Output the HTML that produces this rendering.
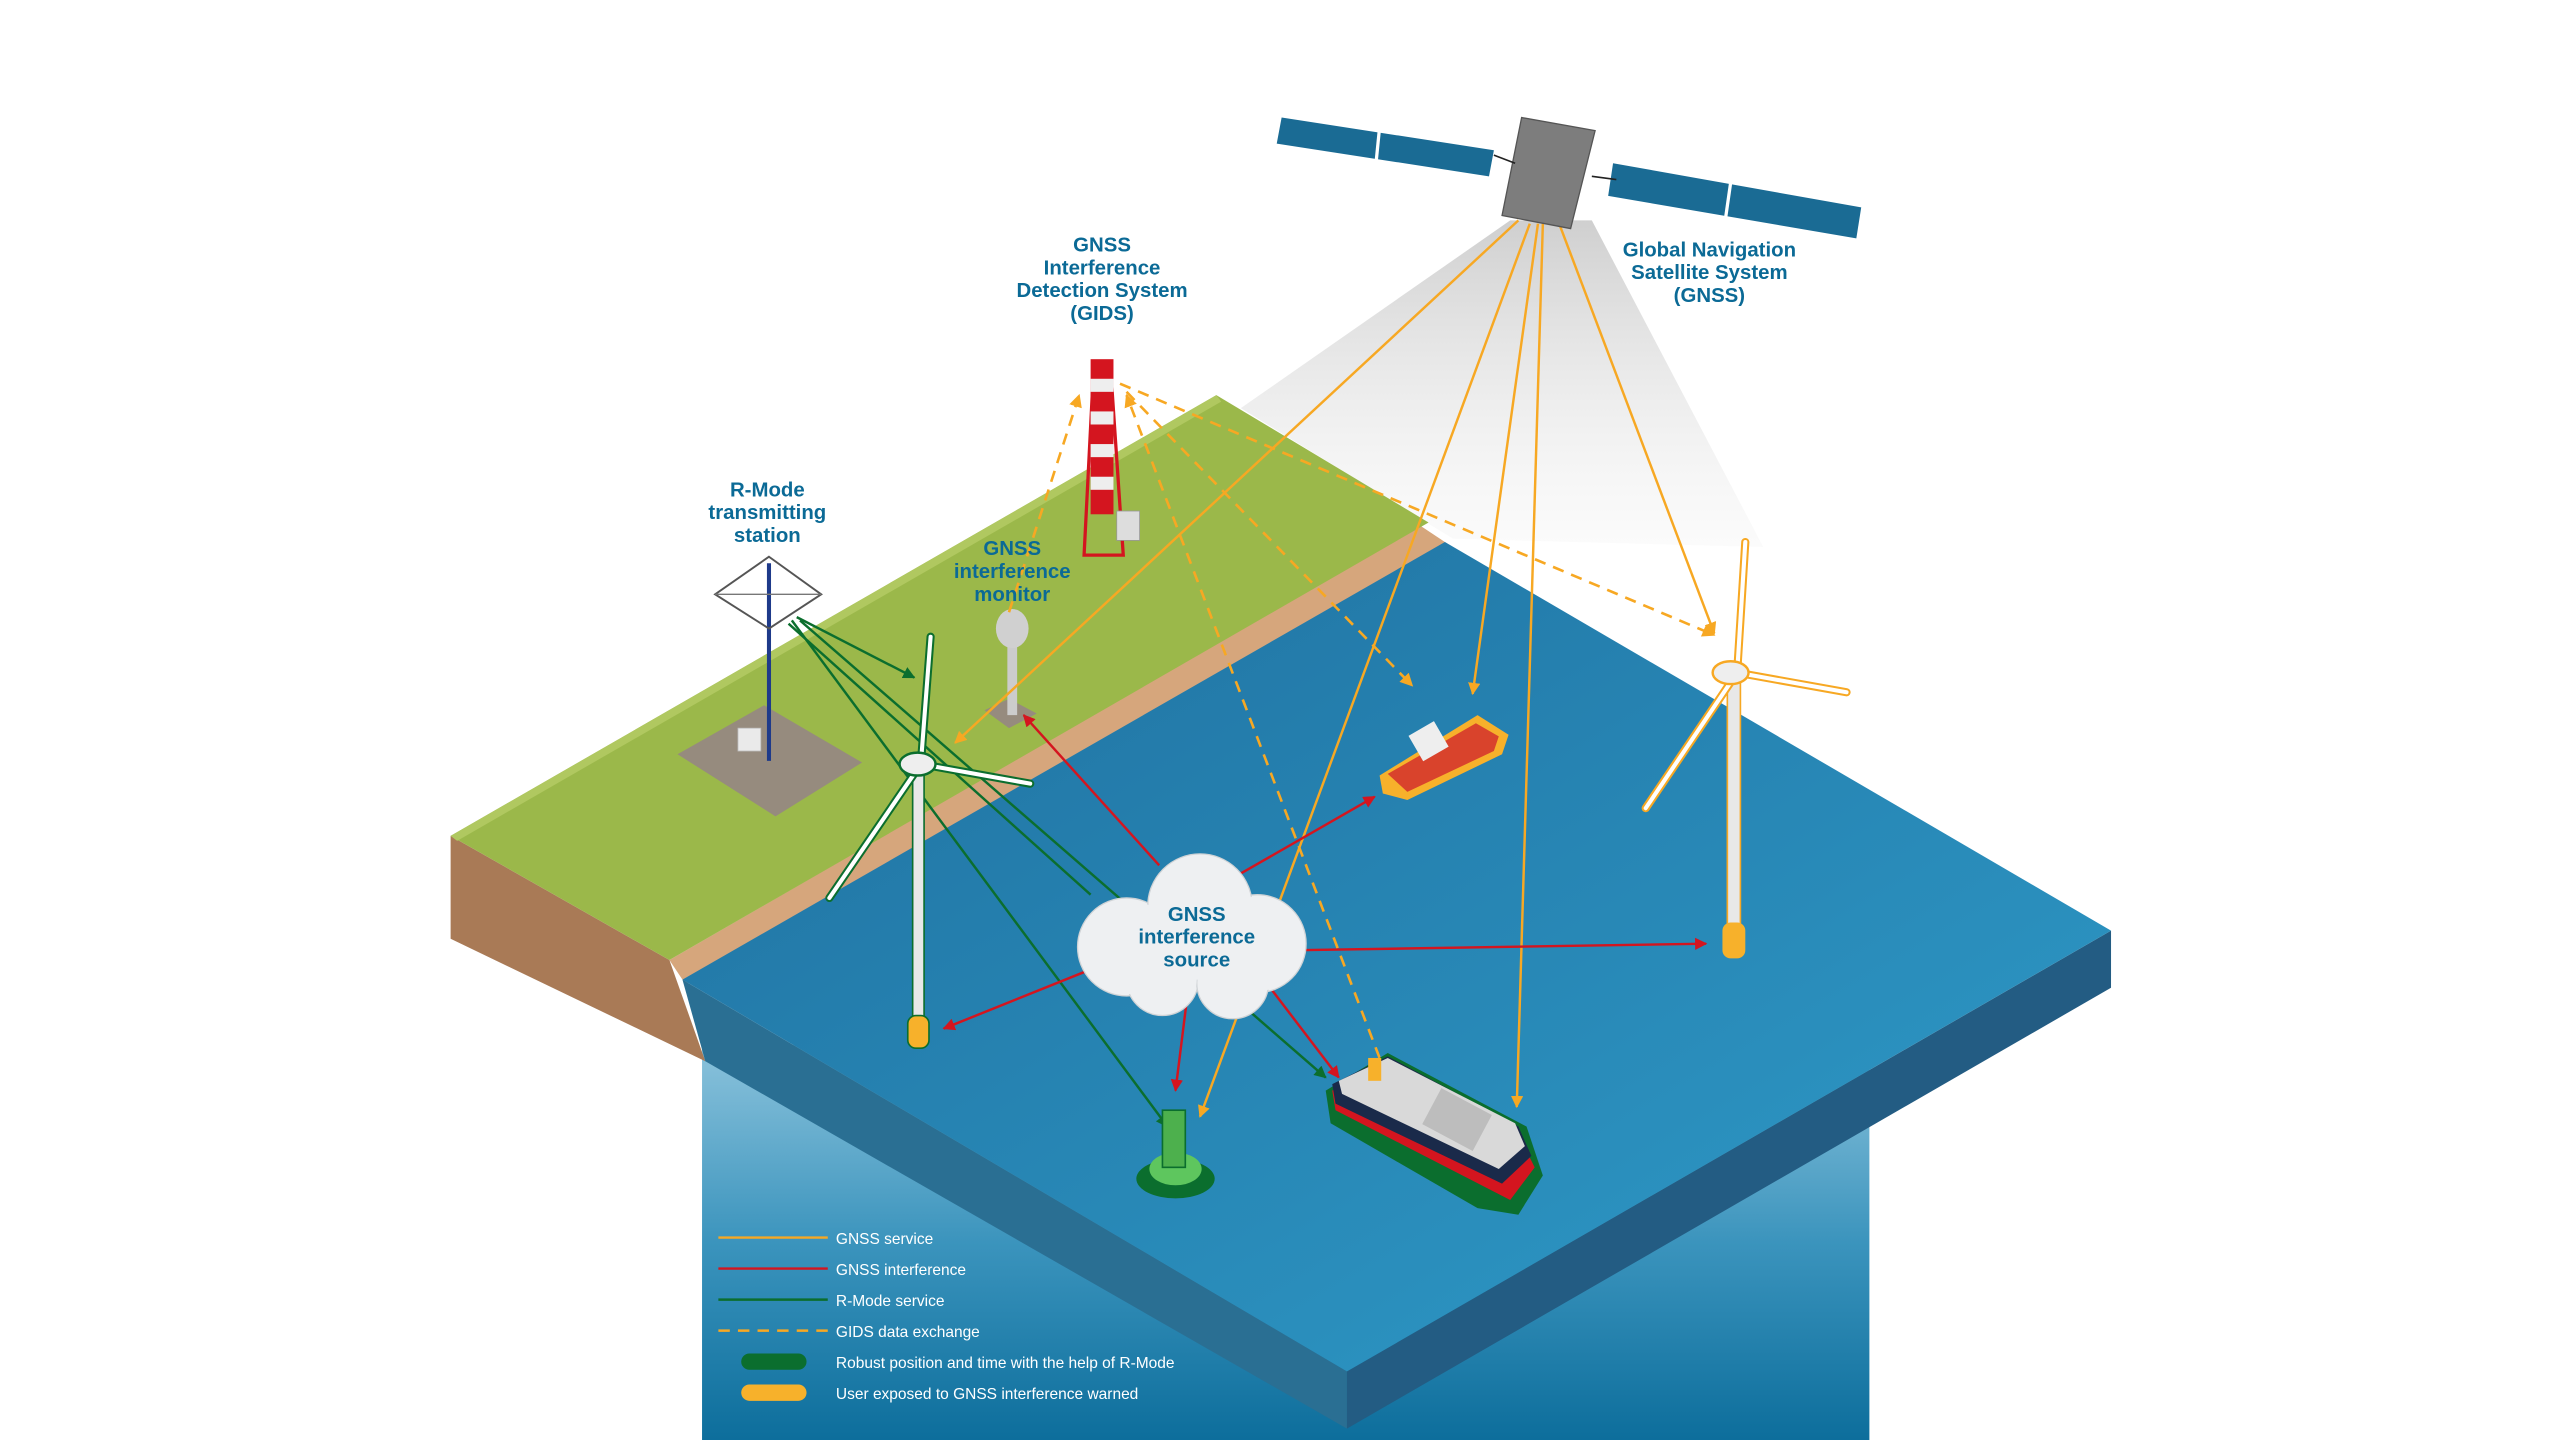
<!DOCTYPE html>
<html><head><meta charset="utf-8">
<style>
html,body{margin:0;padding:0;background:#fff;width:2560px;height:1440px;overflow:hidden}
svg{display:block}
.lbl{font-family:"Liberation Sans",sans-serif;font-weight:bold;fill:#0b6a96;font-size:12.5px;text-anchor:middle}
.lg{font-family:"Liberation Sans",sans-serif;fill:#fff;font-size:9.5px}
</style></head><body>
<svg width="2560" height="1440" viewBox="0 0 1568 882" preserveAspectRatio="none" xmlns="http://www.w3.org/2000/svg">
<defs>
<linearGradient id="col" x1="0" y1="0" x2="0" y2="1">
<stop offset="0" stop-color="#8cc3dc"/><stop offset="0.5" stop-color="#3b94bd"/><stop offset="1" stop-color="#0d6e9c"/></linearGradient>
<linearGradient id="cone" x1="0" y1="0" x2="0" y2="1">
<stop offset="0" stop-color="#cfcfcf"/><stop offset="1" stop-color="#f2f2f2" stop-opacity="0.3"/></linearGradient>
<linearGradient id="sea" x1="0" y1="0" x2="1" y2="1">
<stop offset="0" stop-color="#1f6f9f"/><stop offset="1" stop-color="#2f9cc9"/></linearGradient>
<marker id="ao" viewBox="0 0 10 10" refX="9" refY="5" markerWidth="5" markerHeight="5" orient="auto"><path d="M0,0L10,5L0,10z" fill="#f7a823"/></marker>
<marker id="ar" viewBox="0 0 10 10" refX="9" refY="5" markerWidth="5" markerHeight="5" orient="auto"><path d="M0,0L10,5L0,10z" fill="#d4151f"/></marker>
<marker id="ag" viewBox="0 0 10 10" refX="9" refY="5" markerWidth="5" markerHeight="5" orient="auto"><path d="M0,0L10,5L0,10z" fill="#0b6e2e"/></marker>
</defs>

<!-- light cone -->
<polygon points="925,135 760,250 890,330 1080,335 975,135" fill="url(#cone)"/>

<!-- water column -->
<rect x="430" y="640" width="715" height="242" fill="url(#col)"/>

<!-- brown cliff -->
<polygon points="276,512 410,588 432,650 276,575" fill="#a97a56"/>
<!-- sand -->
<polygon points="410,588 870,322 888,334 420,603" fill="#d6a67c"/>
<!-- green land -->
<polygon points="276,512 745,242 875,320 410,588" fill="#9bb84a"/>
<polygon points="276,512 745,242 748,246 280,515" fill="#b0c860"/>
<!-- sea side faces -->
<polygon points="418,600 432,650 825,875 825,840" fill="#2a6f93"/>
<polygon points="825,840 1293,570 1293,605 825,875" fill="#235c83"/>
<!-- sea top -->
<polygon points="418,600 885,332 1293,570 825,840" fill="url(#sea)"/>

<!-- R-mode station -->
<polygon points="415,462 468,432 528,467 475,500" fill="#968b7e"/>
<rect x="452" y="446" width="14" height="14" fill="#eaeaea" stroke="#bbb" stroke-width="0.5"/>
<line x1="471" y1="345" x2="471" y2="466" stroke="#1e3a8a" stroke-width="2.5"/>
<polygon points="471,341 503,364 471,385 438,364" fill="none" stroke="#555" stroke-width="1.2"/>
<line x1="438" y1="364" x2="503" y2="364" stroke="#777" stroke-width="0.8"/>

<!-- GIDS tower -->
<polygon points="664,340 670,222 680,222 688,340" fill="none" stroke="#d4151f" stroke-width="2"/>
<rect x="668" y="220" width="14" height="95" fill="#d4151f"/>
<rect x="668" y="232" width="14" height="8" fill="#eee"/><rect x="668" y="252" width="14" height="8" fill="#eee"/><rect x="668" y="272" width="14" height="8" fill="#eee"/><rect x="668" y="292" width="14" height="8" fill="#eee"/>
<rect x="684" y="313" width="14" height="18" fill="#ddd" stroke="#999" stroke-width="0.5"/>

<!-- monitor -->
<polygon points="603,435 618,428 635,437 618,446" fill="#968b7e"/>
<rect x="617" y="390" width="6" height="48" fill="#ccc"/>
<ellipse cx="620" cy="385" rx="10" ry="12" fill="#d0d0d0"/>

<!-- GIDS dashed -->
<g stroke="#f7a823" stroke-width="1.6" stroke-dasharray="7,5" fill="none">
<line x1="618" y1="375" x2="661" y2="242" marker-end="url(#ao)"/>
<line x1="845" y1="648" x2="690" y2="242" marker-end="url(#ao)"/>
<line x1="686" y1="235" x2="1050" y2="389" marker-end="url(#ao)"/>
<line x1="690" y1="240" x2="865" y2="420" marker-end="url(#ao)"/>
</g>

<!-- GNSS solid -->
<g stroke="#f7a823" stroke-width="1.5" fill="none">
<line x1="930" y1="135" x2="585" y2="455" marker-end="url(#ao)"/>
<line x1="937" y1="137" x2="735" y2="684" marker-end="url(#ao)"/>
<line x1="942" y1="137" x2="902" y2="425" marker-end="url(#ao)"/>
<line x1="945" y1="137" x2="929" y2="678" marker-end="url(#ao)"/>
<line x1="955" y1="137" x2="1050" y2="388" marker-end="url(#ao)"/>
</g>

<!-- R-Mode green -->
<g stroke="#0b6e2e" stroke-width="1.5" fill="none">
<line x1="488" y1="378" x2="560" y2="415" marker-end="url(#ag)"/>
<line x1="485" y1="380" x2="715" y2="690" marker-end="url(#ag)"/>
<line x1="490" y1="380" x2="812" y2="660" marker-end="url(#ag)"/>
<line x1="483" y1="382" x2="668" y2="548"/>
</g>

<!-- left turbine -->
<rect x="559" y="470" width="7" height="165" fill="#e8e8e8" stroke="#0b6e2e" stroke-width="1"/>
<rect x="556" y="622" width="13" height="20" rx="5" fill="#f7b12b" stroke="#0b6e2e" stroke-width="1"/>
<g stroke="#0b6e2e" stroke-width="5" stroke-linecap="round"><line x1="564" y1="468" x2="570" y2="390"/><line x1="564" y1="468" x2="631" y2="480"/><line x1="564" y1="468" x2="508" y2="550"/></g>
<g stroke="#fff" stroke-width="2.5" stroke-linecap="round"><line x1="564" y1="468" x2="570" y2="390"/><line x1="564" y1="468" x2="631" y2="480"/><line x1="564" y1="468" x2="508" y2="550"/></g>
<ellipse cx="562" cy="468" rx="11" ry="7" fill="#eee" stroke="#0b6e2e" stroke-width="1.5"/>

<!-- right turbine -->
<rect x="1058" y="412" width="8" height="165" fill="#e8e8e8" stroke="#f7a823" stroke-width="1"/>
<rect x="1055" y="565" width="14" height="22" rx="5" fill="#f7b12b"/>
<g stroke="#f7a823" stroke-width="5" stroke-linecap="round"><line x1="1064" y1="412" x2="1069" y2="332"/><line x1="1064" y1="412" x2="1131" y2="424"/><line x1="1064" y1="412" x2="1008" y2="495"/></g>
<g stroke="#fff" stroke-width="2.5" stroke-linecap="round"><line x1="1064" y1="412" x2="1069" y2="332"/><line x1="1064" y1="412" x2="1131" y2="424"/><line x1="1064" y1="412" x2="1008" y2="495"/></g>
<ellipse cx="1060" cy="412" rx="11" ry="7" fill="#eee" stroke="#f7a823" stroke-width="1.5"/>

<!-- tug -->
<polygon points="845,475 905,438 924,450 920,462 862,490 847,486" fill="#f7b12b"/>
<polygon points="850,474 904,443 918,451 915,460 862,485" fill="#d9432c"/>
<rect x="866" y="445" width="18" height="18" fill="#eee" transform="rotate(-30 875 454)"/>

<!-- buoy -->
<ellipse cx="720" cy="722" rx="24" ry="12" fill="#0b6e2e"/>
<ellipse cx="720" cy="716" rx="16" ry="10" fill="#5ec65e"/>
<rect x="712" y="680" width="14" height="35" fill="#4db04d" stroke="#0b6e2e" stroke-width="1"/>

<!-- ship -->
<polygon points="812,668 850,645 935,690 945,720 930,744 905,740 815,688" fill="#0b6e2e"/>
<polygon points="816,668 850,650 930,695 940,715 925,735 818,680" fill="#d4151f"/>
<polygon points="816,664 850,647 930,690 938,708 920,725 818,676" fill="#1a2a4a"/>
<polygon points="820,662 850,648 928,688 934,702 918,716 822,670" fill="#d9d9d9"/>
<rect x="875" y="672" width="35" height="25" fill="#bdbdbd" transform="rotate(28 890 685)"/>
<rect x="838" y="648" width="8" height="14" fill="#f7b12b"/>

<!-- interference red -->
<g stroke="#d4151f" stroke-width="1.5" fill="none">
<line x1="710" y1="530" x2="627" y2="438" marker-end="url(#ar)"/>
<line x1="760" y1="535" x2="842" y2="488" marker-end="url(#ar)"/>
<line x1="795" y1="582" x2="1045" y2="578" marker-end="url(#ar)"/>
<line x1="665" y1="595" x2="578" y2="630" marker-end="url(#ar)"/>
<line x1="727" y1="612" x2="720" y2="668" marker-end="url(#ar)"/>
<line x1="778" y1="605" x2="820" y2="660" marker-end="url(#ar)"/>
</g>

<!-- cloud -->
<g fill="#eef0f2" stroke="#cfd3d6" stroke-width="0.8">
<circle cx="690" cy="580" r="30"/><circle cx="770" cy="578" r="30"/><circle cx="735" cy="555" r="32"/>
<circle cx="712" cy="600" r="22"/><circle cx="755" cy="602" r="22"/>
</g>
<g fill="#eef0f2"><circle cx="690" cy="580" r="29"/><circle cx="770" cy="578" r="29"/><circle cx="735" cy="555" r="31"/><circle cx="712" cy="600" r="21"/><circle cx="755" cy="602" r="21"/><rect x="680" y="560" width="100" height="40"/></g>

<!-- satellite -->
<polygon points="785,72 915,92 912,108 782,88" fill="#1a6b94"/>
<line x1="845" y1="78" x2="843" y2="98" stroke="#fff" stroke-width="2"/>
<polygon points="988,100 1140,127 1137,146 985,120" fill="#1a6b94"/>
<line x1="1060" y1="112" x2="1057" y2="133" stroke="#fff" stroke-width="2"/>
<polygon points="932,72 977,80 962,140 920,132" fill="#7d7d7d" stroke="#555" stroke-width="0.8"/>
<line x1="915" y1="95" x2="928" y2="100" stroke="#222"/><line x1="975" y1="108" x2="990" y2="110" stroke="#222"/>

<!-- labels -->
<text class="lbl"><tspan x="675" y="154">GNSS</tspan><tspan x="675" y="168">Interference</tspan><tspan x="675" y="182">Detection System</tspan><tspan x="675" y="196">(GIDS)</tspan></text>
<text class="lbl"><tspan x="1047" y="157">Global Navigation</tspan><tspan x="1047" y="171">Satellite System</tspan><tspan x="1047" y="185">(GNSS)</tspan></text>
<text class="lbl"><tspan x="470" y="304">R-Mode</tspan><tspan x="470" y="318">transmitting</tspan><tspan x="470" y="332">station</tspan></text>
<text class="lbl"><tspan x="620" y="340">GNSS</tspan><tspan x="620" y="354">interference</tspan><tspan x="620" y="368">monitor</tspan></text>
<text class="lbl"><tspan x="733" y="564">GNSS</tspan><tspan x="733" y="578">interference</tspan><tspan x="733" y="592">source</tspan></text>

<!-- legend -->
<line x1="440" y1="758" x2="507" y2="758" stroke="#f7a823" stroke-width="1.5"/>
<line x1="440" y1="777" x2="507" y2="777" stroke="#d4151f" stroke-width="1.5"/>
<line x1="440" y1="796" x2="507" y2="796" stroke="#0b6e2e" stroke-width="1.5"/>
<line x1="440" y1="815" x2="507" y2="815" stroke="#f7a823" stroke-width="1.5" stroke-dasharray="7,5"/>
<rect x="454" y="829" width="40" height="10" rx="5" fill="#0b6e2e"/>
<rect x="454" y="848" width="40" height="10" rx="5" fill="#f7b12b"/>
<text class="lg" x="512" y="762">GNSS service</text>
<text class="lg" x="512" y="781">GNSS interference</text>
<text class="lg" x="512" y="800">R-Mode service</text>
<text class="lg" x="512" y="819">GIDS data exchange</text>
<text class="lg" x="512" y="838">Robust position and time with the help of R-Mode</text>
<text class="lg" x="512" y="857">User exposed to GNSS interference warned</text>
</svg>
</body></html>
